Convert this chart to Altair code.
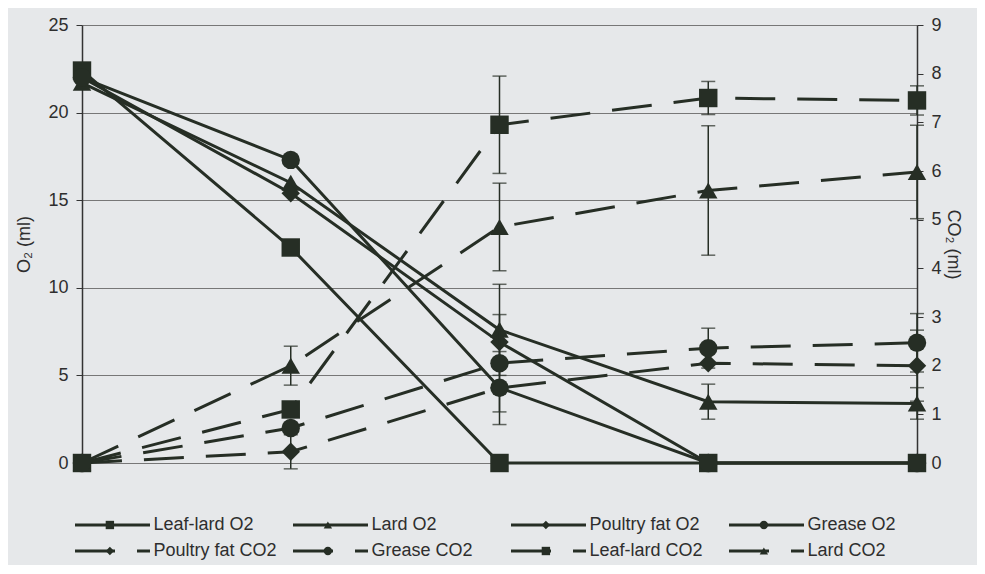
import altair as alt
import pandas as pd

# ---------------- data ----------------
days = ["0", "1", "3", "6", "7"]
fats = ["Leaf-lard", "Lard", "Poultry fat", "Grease"]
shapes = ["square", "triangle-up", "diamond", "circle"]

o2_leaf = [22.4, 12.3, 0.0, 0.0, 0.0]
o2_lard = [21.7, 16.0, 7.6, 3.5, 3.4]
o2_poultry = [22.0, 15.4, 6.9, 0.0, 0.0]
o2_grease = [22.0, 17.3, 4.3, 0.0, 0.0]

o2_err_leaf = [0, 0, 0, 0, 0]
o2_err_lard = [0, 0, 2.6, 1.0, 0.9]
o2_err_poultry = [0, 0, 0, 0, 0]
o2_err_grease = [0, 0, 0, 0, 0]

co2_leaf = [0.0, 1.1, 6.95, 7.5, 7.45]
co2_lard = [0.0, 2.0, 4.85, 5.6, 5.98]
co2_poultry = [0.0, 0.23, 1.54, 2.05, 2.0]
co2_grease = [0.0, 0.72, 2.05, 2.36, 2.47]

co2_err_leaf = [0, 0, 1.0, 0.34, 0.3]
co2_err_lard = [0, 0.4, 0.9, 1.33, 0.96]
co2_err_poultry = [0, 0.35, 0.75, 0, 0.73]
co2_err_grease = [0, 0, 1.0, 0.41, 0.6]

legend_labels = ["Leaf-lard O2", "Lard O2", "Poultry fat O2", "Grease O2",
                 "Poultry fat CO2", "Grease CO2", "Leaf-lard CO2", "Lard CO2"]
legend_fats = ["Leaf-lard", "Lard", "Poultry fat", "Grease",
               "Poultry fat", "Grease", "Leaf-lard", "Lard"]
legend_kind = ["O2", "O2", "O2", "O2", "CO2", "CO2", "CO2", "CO2"]
legend_col = [0, 1, 2, 3, 0, 1, 2, 3]
legend_row = [0, 0, 0, 0, 1, 1, 1, 1]

# ---------------- tables ----------------
def build(vals, errs):
    rows = []
    for fat, v, e in zip(fats, vals, errs):
        for d, vv, ee in zip(days, v, e):
            rows.append({"day": d, "fat": fat, "value": vv, "err": ee,
                         "lo": vv - ee, "hi": vv + ee})
    return pd.DataFrame(rows)

df_o2 = build([o2_leaf, o2_lard, o2_poultry, o2_grease],
              [o2_err_leaf, o2_err_lard, o2_err_poultry, o2_err_grease])
df_co2 = build([co2_leaf, co2_lard, co2_poultry, co2_grease],
               [co2_err_leaf, co2_err_lard, co2_err_poultry, co2_err_grease])
df_o2_err = df_o2[df_o2["err"] > 0]
df_co2_err = df_co2[df_co2["err"] > 0]

df_leg = pd.DataFrame({"label": legend_labels, "fat": legend_fats,
                       "kind": legend_kind, "col": legend_col, "row": legend_row})
df_leg["x_end"] = df_leg["col"] + 0.344
df_leg["x_mark"] = df_leg["col"] + 0.16
df_leg["x_text"] = df_leg["col"] + 0.36

# ---------------- style ----------------
INK = "#262e25"
FONT = "Liberation Sans"
W, H = 835, 438

xscale = alt.Scale(type="point", domain=days, padding=0)
shape_scale = alt.Scale(domain=fats, range=shapes)

x_main = alt.X("day:O", scale=xscale,
               axis=alt.Axis(title=None, labelAngle=0, ticks=False, tickSize=0,
                             labelPadding=16, labelFontSize=18, labelFont=FONT,
                             labelColor="#2e2e2e", domainColor="#333333",
                             domainWidth=1.5, grid=False))
x_plain = alt.X("day:O", scale=xscale, axis=None)

o2_scale = alt.Scale(domain=[0, 25], nice=False, zero=True)
co2_scale = alt.Scale(domain=[0, 9], nice=False, zero=True)

# ---------------- O2 group ----------------
o2_axis = alt.Axis(title="O₂ (ml)", values=[0, 5, 10, 15, 20, 25], grid=True,
                   gridColor="#777777", gridWidth=1, tickSize=6, tickColor="#333333",
                   domainColor="#333333", domainWidth=1.5, labelFontSize=18,
                   labelFont=FONT, labelColor="#2e2e2e", labelPadding=8,
                   titleFont=FONT, titleFontSize=18, titleFontWeight="normal",
                   titleColor="#2e2e2e", titlePadding=14)

o2_err_rule = alt.Chart(df_o2_err).mark_rule(color=INK, strokeWidth=1.5).encode(
    x=x_plain, y=alt.Y("lo:Q", scale=o2_scale, axis=o2_axis), y2="hi:Q")
o2_cap_lo = alt.Chart(df_o2_err).mark_tick(color=INK, size=14, thickness=1.5).encode(
    x=x_plain, y=alt.Y("lo:Q", scale=o2_scale))
o2_cap_hi = alt.Chart(df_o2_err).mark_tick(color=INK, size=14, thickness=1.5).encode(
    x=x_plain, y=alt.Y("hi:Q", scale=o2_scale))
o2_line = alt.Chart(df_o2).mark_line(color=INK, strokeWidth=3).encode(
    x=x_main, y=alt.Y("value:Q", scale=o2_scale), detail="fat:N")
o2_pts = alt.Chart(df_o2).mark_point(filled=True, size=340, opacity=1, color=INK).encode(
    x=x_plain, y=alt.Y("value:Q", scale=o2_scale),
    shape=alt.Shape("fat:N", scale=shape_scale, legend=None))

o2_group = alt.layer(o2_err_rule, o2_cap_lo, o2_cap_hi, o2_line, o2_pts)

# ---------------- CO2 group ----------------
co2_axis = alt.Axis(title="CO₂ (ml)", orient="right", values=list(range(10)),
                    grid=False, tickSize=6, tickColor="#333333",
                    domainColor="#333333", domainWidth=1.5, labelFontSize=18,
                    labelFont=FONT, labelColor="#2e2e2e", labelPadding=8,
                    titleFont=FONT, titleFontSize=18, titleFontWeight="normal",
                    titleColor="#2e2e2e", titlePadding=2)

co2_err_rule = alt.Chart(df_co2_err).mark_rule(color=INK, strokeWidth=1.5).encode(
    x=x_plain, y=alt.Y("lo:Q", scale=co2_scale, axis=co2_axis), y2="hi:Q")
co2_cap_lo = alt.Chart(df_co2_err).mark_tick(color=INK, size=14, thickness=1.5).encode(
    x=x_plain, y=alt.Y("lo:Q", scale=co2_scale))
co2_cap_hi = alt.Chart(df_co2_err).mark_tick(color=INK, size=14, thickness=1.5).encode(
    x=x_plain, y=alt.Y("hi:Q", scale=co2_scale))
co2_line = alt.Chart(df_co2).mark_line(color=INK, strokeWidth=3,
                                       strokeDash=[40, 22]).encode(
    x=x_plain, y=alt.Y("value:Q", scale=co2_scale), detail="fat:N")
co2_pts = alt.Chart(df_co2).mark_point(filled=True, size=340, opacity=1, color=INK).encode(
    x=x_plain, y=alt.Y("value:Q", scale=co2_scale),
    shape=alt.Shape("fat:N", scale=shape_scale, legend=None))

co2_group = alt.layer(co2_err_rule, co2_cap_lo, co2_cap_hi, co2_line, co2_pts)

# ---------------- legend group ----------------
leg_x = alt.Scale(domain=[0, 4], range=[-7, 865], nice=False, zero=False)
leg_y = alt.Scale(domain=[0, 1], range=[500, 526], nice=False, zero=False)

leg_line = alt.Chart(df_leg).mark_rule(color=INK, strokeWidth=3).encode(
    x=alt.X("col:Q", scale=leg_x, axis=None), x2="x_end:Q",
    y=alt.Y("row:Q", scale=leg_y, axis=None),
    strokeDash=alt.StrokeDash("kind:N", scale=alt.Scale(domain=["O2", "CO2"],
                              range=[[1, 0], [40, 22]]), legend=None))
leg_pts = alt.Chart(df_leg).mark_point(filled=True, size=70, opacity=1, color=INK).encode(
    x=alt.X("x_mark:Q", scale=leg_x, axis=None),
    y=alt.Y("row:Q", scale=leg_y, axis=None),
    shape=alt.Shape("fat:N", scale=shape_scale, legend=None))
leg_txt = alt.Chart(df_leg).mark_text(align="left", baseline="middle", font=FONT,
                                      fontSize=18, color="#2e2e2e").encode(
    x=alt.X("x_text:Q", scale=leg_x, axis=None),
    y=alt.Y("row:Q", scale=leg_y, axis=None),
    text="label:N")

leg_group = alt.layer(leg_line, leg_pts, leg_txt)

chart = alt.layer(o2_group, co2_group, leg_group).resolve_scale(
    x="independent", y="independent"
).properties(
    width=W, height=H,
    autosize=alt.AutoSizeParams(type="none"),
    padding={"left": 74, "top": 17, "right": 60, "bottom": 102},
    background="#e6e8ea",
).configure_view(stroke=None)

chart.save("out.html", embed_options={"renderer": "svg", "actions": False})
